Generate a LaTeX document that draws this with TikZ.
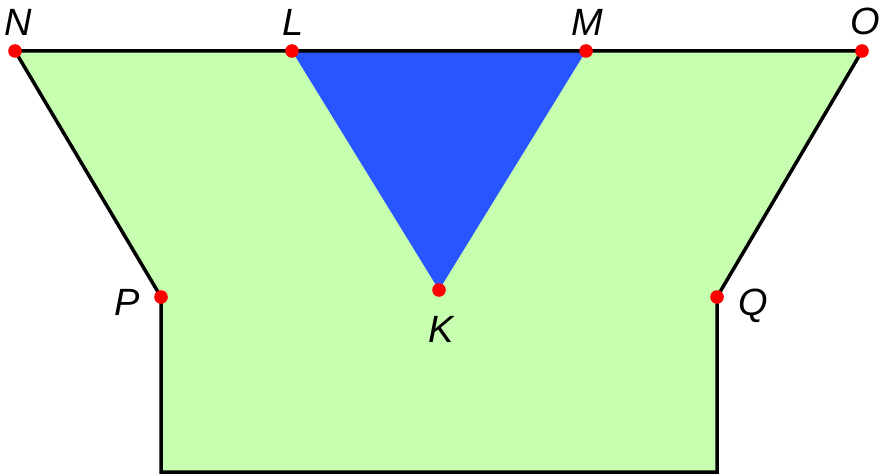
\documentclass[tikz,border=0pt]{standalone}
\usepackage{fontspec}
\setmainfont{Liberation Sans}
\usepackage{tikz}

\definecolor{fieldgreen}{RGB}{198,255,176}
\definecolor{wedgeblue}{RGB}{40,85,255}

\tikzset{
  pt/.style={fill=red, draw=none},
  lbl/.style={anchor=base, inner sep=0pt, font=\fontsize{38}{40}\selectfont\itshape}
}

\begin{document}
\begin{tikzpicture}[x=1pt, y=-1pt]
    \useasboundingbox (0,0) rectangle (880,476);
    % corner points
    \coordinate (N) at (15,51);
    \coordinate (L) at (292,51);
    \coordinate (M) at (586,51);
    \coordinate (O) at (862,51);
    \coordinate (P) at (161,297);
    \coordinate (K) at (439,290);
    \coordinate (Q) at (717,297);
    \coordinate (BL) at (161,472);
    \coordinate (BR) at (717,472);
    \fill[fieldgreen] (N) -- (O) -- (Q) -- (BR) -- (BL) -- (P) -- cycle;
    \fill[wedgeblue] (L) -- (M) -- (K) -- cycle;
    \draw[line width=3.5pt, line join=miter] (N) -- (O) -- (Q) -- (BR) -- (BL) -- (P) -- cycle;
    \foreach \p in {N,L,M,O,P,K,Q}
        \fill[pt] (\p) circle (6.8pt);
    % labels
    \node[lbl] (labN) at (18,36) {N};
    \node[lbl] (labL) at (293,36) {L};
    \node[lbl] (labM) at (587,36) {M};
    \node[lbl] (labO) at (865,35) {O};
    \node[lbl] (labP) at (127,315) {P};
    \node[lbl] (labK) at (441,342) {K};
    \node[lbl] (labQ) at (753,315) {Q};
\end{tikzpicture}
\end{document}
